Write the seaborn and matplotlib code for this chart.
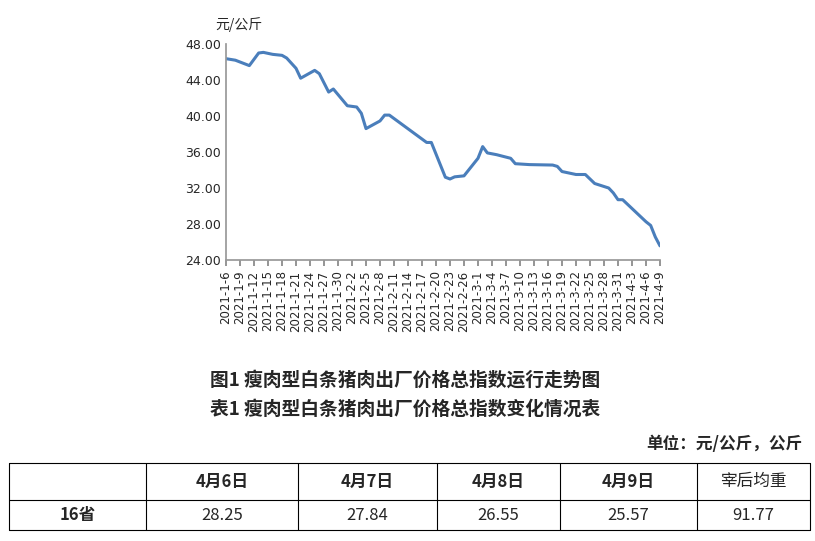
import matplotlib
matplotlib.use("Agg")
import matplotlib.pyplot as plt
import seaborn as sns
import pandas as pd

sns.set_theme(style="white")
plt.rcParams['font.family'] = ['Noto Sans CJK SC', 'DejaVu Sans']

dates = ["2021-01-06","2021-01-08","2021-01-11","2021-01-13","2021-01-14","2021-01-16","2021-01-18",
         "2021-01-19","2021-01-21","2021-01-22","2021-01-25","2021-01-26","2021-01-28","2021-01-29",
         "2021-02-01","2021-02-03","2021-02-04","2021-02-05","2021-02-08","2021-02-09","2021-02-10",
         "2021-02-18","2021-02-19","2021-02-22","2021-02-23","2021-02-24","2021-02-26","2021-03-01",
         "2021-03-02","2021-03-03","2021-03-05","2021-03-08","2021-03-09","2021-03-12","2021-03-17",
         "2021-03-18","2021-03-19","2021-03-22","2021-03-24","2021-03-26","2021-03-29","2021-03-30",
         "2021-03-31","2021-04-01","2021-04-06","2021-04-07","2021-04-08","2021-04-09"]
values = [46.37,46.2,45.6,47.0,47.07,46.85,46.74,46.44,45.3,44.2,45.07,44.7,42.66,43.0,
          41.14,41.0,40.3,38.6,39.45,40.1,40.1,37.06,37.06,33.2,33.0,33.24,33.35,35.3,
          36.6,35.9,35.7,35.3,34.7,34.6,34.55,34.4,33.83,33.5,33.5,32.5,32.0,31.45,
          30.7,30.7,28.25,27.84,26.55,25.57]
y_ticks = [24, 28, 32, 36, 40, 44, 48]

table_cols = ["", "4月6日", "4月7日", "4月8日", "4月9日", "宰后均重"]
table_row = ["16省", "28.25", "27.84", "26.55", "25.57", "91.77"]

df = pd.DataFrame({"date": pd.to_datetime(dates), "value": values})

W, H = 815, 541
fig = plt.figure(figsize=(W/100, H/100), dpi=100)
ax = fig.add_axes([226/W, 1-260/H, (660-226)/W, (260-44)/H])
sns.lineplot(data=df, x="date", y="value", ax=ax, color="#4a7ebb", linewidth=2.2)
ax.set_ylim(24, 48)
ax.set_yticks(y_ticks)
ax.set_yticklabels([f"{t:.2f}" for t in y_ticks], fontsize=9, family=['DejaVu Sans'])
start, end = pd.Timestamp("2021-01-06"), pd.Timestamp("2021-04-09")
ax.set_xlim(start, end)
ticks = pd.date_range(start, end, freq="3D")
ax.set_xticks(ticks)
ax.set_xticklabels([f"{d.year}-{d.month}-{d.day}" for d in ticks], rotation=90, fontsize=8.5,
                   family=['DejaVu Sans'])
ax.tick_params(axis="x", length=4, color="#888888", direction="out", bottom=True)
ax.tick_params(axis="y", length=0)
for s in ["top", "right"]:
    ax.spines[s].set_visible(False)
for s in ["left", "bottom"]:
    ax.spines[s].set_color("#999999")
ax.set_xlabel(""); ax.set_ylabel("")
fig.text(215/W, 1-25/H, "元/公斤", fontsize=10, ha="left", va="center")

fig.text(405/W, 1-380/H, "图1 瘦肉型白条猪肉出厂价格总指数运行走势图", fontsize=13.5, fontweight="bold", ha="center", va="center")
fig.text(405/W, 1-409/H, "表1 瘦肉型白条猪肉出厂价格总指数变化情况表", fontsize=13.5, fontweight="bold", ha="center", va="center")
fig.text(802/W, 1-444/H, "单位：元/公斤，公斤", fontsize=12, fontweight="bold", ha="right", va="center")

tax = fig.add_axes([0, 0, 1, 1])
tax.set_xlim(0, W); tax.set_ylim(H, 0); tax.axis("off")
xb = [9, 146, 298, 437, 560, 697, 810]
yb = [463, 500, 530]
for x in xb:
    tax.plot([x, x], [yb[0], yb[-1]], color="black", lw=0.8)
for y in yb:
    tax.plot([xb[0], xb[-1]], [y, y], color="black", lw=0.8)
for i in range(6):
    cx = (xb[i] + xb[i+1]) / 2
    tax.text(cx, (yb[0]+yb[1])/2, table_cols[i], ha="center", va="center", fontsize=12,
             fontweight="bold" if i < 5 else "normal")
    tax.text(cx, (yb[1]+yb[2])/2, table_row[i], ha="center", va="center", fontsize=12,
             fontweight="bold" if i == 0 else "normal")

fig.savefig("out.png", dpi=100)
